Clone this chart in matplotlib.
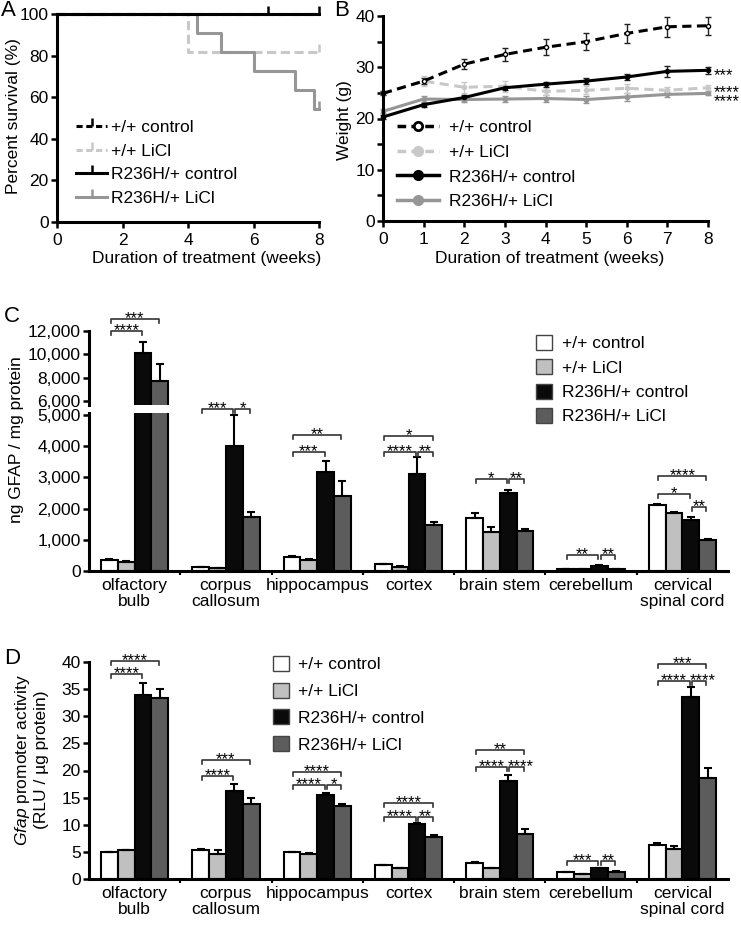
import matplotlib
matplotlib.use("Agg")
import matplotlib.pyplot as plt
import numpy as np
from matplotlib.lines import Line2D
from matplotlib.patches import Patch
from matplotlib.ticker import FuncFormatter, FixedLocator

plt.rcParams['font.family'] = ['Liberation Sans', 'DejaVu Sans']
plt.rcParams['font.size'] = 12.5
plt.rcParams['mathtext.fontset'] = 'custom'
plt.rcParams['mathtext.it'] = 'Liberation Sans:italic'
plt.rcParams['mathtext.rm'] = 'Liberation Sans'

W, H = 741, 926
FS = 12.5
STAR_FS = 12

# ---- panel A: survival (step curves) ----
surv_t_wt_ctrl = [0, 8]
surv_wt_ctrl = [100, 100]
surv_t_wt_licl = [0, 4.0, 8]
surv_wt_licl = [100, 81.8, 81.8]
surv_t_r_ctrl = [0, 8]
surv_r_ctrl = [100, 100]
surv_t_r_licl = [0, 4.27, 5.0, 6.0, 7.27, 7.85, 8]
surv_r_licl = [100, 90.9, 81.8, 72.7, 63.6, 54.5, 54.5]
cens_r_ctrl = [6.43, 8]

# ---- panel B: body weight ----
weeks = [0, 1, 2, 3, 4, 5, 6, 7, 8]
wt_wt_ctrl = [24.9, 27.3, 30.6, 32.5, 33.9, 35.0, 36.6, 37.9, 38.1]
wt_wt_ctrl_err = [0.4, 0.6, 1.0, 1.2, 1.6, 1.7, 1.8, 1.9, 1.8]
wt_wt_licl = [24.9, 27.3, 26.1, 26.3, 25.3, 25.5, 25.9, 25.5, 26.0]
wt_wt_licl_err = [0.4, 1.0, 1.1, 1.1, 0.8, 0.8, 0.9, 0.6, 0.6]
wt_r_ctrl = [20.3, 22.7, 24.1, 26.0, 26.7, 27.3, 28.1, 29.2, 29.4]
wt_r_ctrl_err = [0.3, 0.4, 0.4, 0.4, 0.5, 0.6, 0.6, 1.1, 0.7]
wt_r_licl = [21.4, 23.8, 23.7, 23.8, 23.9, 23.7, 24.2, 24.7, 24.9]
wt_r_licl_err = [0.4, 0.5, 0.5, 0.5, 0.6, 0.6, 0.7, 0.5, 0.4]
b_stars = ['***', '****', '****']

# ---- panels C, D: regions ----
regions = ['olfactory\nbulb', 'corpus\ncallosum', 'hippocampus', 'cortex',
           'brain stem', 'cerebellum', 'cervical\nspinal cord']
groups = ['+/+ control', '+/+ LiCl', 'R236H/+ control', 'R236H/+ LiCl']

gfap_wt_ctrl = [360, 130, 450, 210, 1700, 75, 2120]
gfap_wt_licl = [290, 100, 350, 140, 1260, 75, 1850]
gfap_r_ctrl = [10100, 4000, 3170, 3100, 2510, 160, 1620]
gfap_r_licl = [7750, 1740, 2400, 1470, 1280, 60, 1000]
gfap_wt_ctrl_err = [20, 10, 20, 20, 160, 5, 40]
gfap_wt_licl_err = [20, 10, 20, 20, 160, 5, 50]
gfap_r_ctrl_err = [1000, 990, 370, 540, 100, 20, 120]
gfap_r_licl_err = [1450, 140, 480, 90, 60, 10, 40]

prom_wt_ctrl = [4.9, 5.4, 4.9, 2.5, 3.0, 1.2, 6.2]
prom_wt_licl = [5.3, 4.7, 4.7, 2.0, 2.0, 0.9, 5.6]
prom_r_ctrl = [33.9, 16.3, 15.4, 10.1, 18.0, 2.0, 33.6]
prom_r_licl = [33.3, 13.9, 13.4, 7.7, 8.3, 1.35, 18.7]
prom_wt_ctrl_err = [0.1, 0.1, 0.05, 0.1, 0.1, 0.05, 0.4]
prom_wt_licl_err = [0.1, 0.6, 0.05, 0.1, 0.1, 0.1, 0.5]
prom_r_ctrl_err = [2.3, 1.3, 0.5, 0.2, 1.1, 0.1, 1.8]
prom_r_licl_err = [1.7, 1.1, 0.4, 0.4, 0.9, 0.1, 1.7]

# (region, bar a, bar b, height, label)
gfap_sig_top = [(0, 0, 2, 12000, '****'), (0, 0, 3, 13050, '***')]
gfap_sig = [(1, 0, 2, 5200, '***'), (1, 2, 3, 5200, '*'),
            (2, 0, 2, 3820, '***'), (2, 0, 3, 4350, '**'),
            (3, 0, 2, 3800, '****'), (3, 2, 3, 3800, '**'), (3, 0, 3, 4330, '*'),
            (4, 0, 2, 2940, '*'), (4, 2, 3, 2940, '**'),
            (5, 0, 2, 500, '**'), (5, 2, 3, 500, '**'),
            (6, 0, 3, 3050, '****'), (6, 0, 2, 2480, '*'), (6, 2, 3, 2060, '**')]
prom_sig = [(0, 0, 2, 37.8, '****'), (0, 0, 3, 40.2, '****'),
            (1, 0, 2, 19.0, '****'), (1, 0, 3, 21.9, '***'),
            (2, 0, 2, 17.3, '****'), (2, 2, 3, 17.3, '*'), (2, 0, 3, 19.8, '****'),
            (3, 0, 2, 11.5, '****'), (3, 2, 3, 11.5, '**'), (3, 0, 3, 14.1, '****'),
            (4, 0, 2, 20.6, '****'), (4, 2, 3, 20.6, '****'), (4, 0, 3, 23.8, '**'),
            (5, 0, 2, 3.4, '***'), (5, 2, 3, 3.4, '**'),
            (6, 0, 2, 36.5, '****'), (6, 2, 3, 36.5, '****'), (6, 0, 3, 39.6, '***')]

BAR_COLORS = ['white', '#c0c0c0', '#0a0a0a', '#5c5c5c']
LIGHT = '#c8c8c8'
MID = '#969696'
BW = 0.184


def box(l, t, r, b):
    return [l / W, 1 - b / H, (r - l) / W, (b - t) / H]


def ftext(x, y, s, **kw):
    kw.setdefault('ha', 'center')
    kw.setdefault('va', 'center')
    fig.text(x / W, 1 - y / H, s, **kw)


def style(ax, left=True, bottom=True):
    for s in ('top', 'right'):
        ax.spines[s].set_visible(False)
    ax.spines['left'].set_visible(left)
    ax.spines['bottom'].set_visible(bottom)
    for s in ('left', 'bottom'):
        ax.spines[s].set_linewidth(2.2)
    ax.tick_params(width=1.8, length=4, direction='out', labelsize=FS, pad=2)


def bars(ax, means, errs):
    x0 = np.arange(len(regions))
    for k, (m, e) in enumerate(zip(means, errs)):
        x = x0 + (k - 1.5) * BW
        ax.bar(x, m, BW, color=BAR_COLORS[k], edgecolor='black', lw=1.5, zorder=2)
        ax.errorbar(x, m, yerr=[np.zeros(len(m)), e], fmt='none', ecolor='black',
                    elinewidth=1.5, capsize=3, capthick=1.5, zorder=3)


def star_w(label):
    # approx width of a row of asterisks, px
    return len(label) * 0.389 * STAR_FS * 100 / 72


def brackets(ax, sigs, tick_px=4):
    y0, y1 = ax.get_ylim()
    dy = tick_px * (y1 - y0) / ax.bbox.height
    x_px = ax.bbox.width / np.diff(ax.get_xlim())[0]
    for cat, a, b, y, label in sigs:
        x1 = cat + (a - 1.5) * BW + 0.012
        x2 = cat + (b - 1.5) * BW - 0.012
        ax.plot([x1, x1, x2, x2], [y - dy, y, y, y - dy], color='#333333', lw=1.2,
                clip_on=False, zorder=4)
        # push a label right if it would run into its left neighbour's label
        shift = 0.0
        for c2, a2, b2, y2, lab2 in sigs:
            if c2 == cat and y2 == y and b2 == a:
                gap = ((a + b) - (a2 + b2)) / 2 * BW * x_px
                need = (star_w(label) + star_w(lab2)) / 2 + 3 - gap
                shift = max(shift, need)
        ax.annotate(label, ((x1 + x2) / 2, y), xytext=(shift * 0.72, -3),
                    textcoords='offset points', ha='center', va='baseline',
                    fontsize=STAR_FS, annotation_clip=False)


def region_axis(ax):
    ax.set_xlim(-0.5, len(regions) - 0.5)
    ax.set_xticks(range(len(regions)))
    ax.set_xticklabels(regions, linespacing=1.05)
    ax.tick_params(axis='x', which='major', length=0, pad=5)
    ax.xaxis.set_minor_locator(FixedLocator(np.arange(0.5, len(regions) - 1, 1.0)))
    ax.tick_params(axis='x', which='minor', length=3, width=1.5, direction='out')


fig = plt.figure(figsize=(W / 100, H / 100), dpi=100)

# ---------------- A ----------------
axA = fig.add_axes(box(57, 14, 319, 222))
style(axA)
axA.step(surv_t_wt_ctrl, surv_wt_ctrl, where='post', color='black', lw=2.2,
         ls=(0, (3, 1.5)), clip_on=False)
axA.step(surv_t_wt_licl, surv_wt_licl, where='post', color=LIGHT, lw=2.2,
         ls=(0, (3, 1.5)), clip_on=False)
axA.step(surv_t_r_licl, surv_r_licl, where='post', color=MID, lw=2.2, clip_on=False)
axA.step(surv_t_r_ctrl, surv_r_ctrl, where='post', color='black', lw=2.2, clip_on=False)
axA.plot([surv_t_wt_licl[-1]], [surv_wt_licl[-1]], ls='none', marker=2, ms=6, mew=1.8,
         color=LIGHT, clip_on=False)
axA.plot([surv_t_r_licl[-1]], [surv_r_licl[-1]], ls='none', marker=2, ms=6, mew=1.8,
         color=MID, clip_on=False)
axA.plot(cens_r_ctrl, [100] * len(cens_r_ctrl), ls='none', marker=2, ms=6, mew=1.8,
         color='black', clip_on=False)
axA.set_xlim(0, 8)
axA.set_ylim(0, 100)
axA.set_xticks([0, 2, 4, 6, 8])
axA.set_yticks([0, 20, 40, 60, 80, 100])
axA.tick_params(axis='x', pad=4)
hA = [Line2D([], [], color='black', lw=2.2, ls=(0, (2, 1.2)), marker=2, ms=6, mew=1.8),
      Line2D([], [], color=LIGHT, lw=2.2, ls=(0, (2, 1.2)), marker=2, ms=6, mew=1.8),
      Line2D([], [], color='black', lw=2.2, marker=2, ms=6, mew=1.8),
      Line2D([], [], color=MID, lw=2.2, marker=2, ms=6, mew=1.8)]
fig.legend(hA, groups, loc='upper left', bbox_to_anchor=(76 / W, 1 - 120 / H),
           frameon=False, borderpad=0, borderaxespad=0, handlelength=1.8,
           handletextpad=0.2, labelspacing=0.48, fontsize=FS)
ftext(14, 116, 'Percent survival (%)', rotation=90, fontsize=FS)
ftext(207, 258, 'Duration of treatment (weeks)', fontsize=FS)

# ---------------- B ----------------
axB = fig.add_axes(box(383, 16, 708, 221))
style(axB)
series = [(wt_r_licl, wt_r_licl_err, MID, '-', MID, MID),
          (wt_wt_licl, wt_wt_licl_err, LIGHT, (0, (3, 1.8)), LIGHT, LIGHT),
          (wt_r_ctrl, wt_r_ctrl_err, 'black', '-', 'black', '#222222'),
          (wt_wt_ctrl, wt_wt_ctrl_err, 'black', (0, (3, 1.8)), 'white', '#222222')]
for vals, err, col, ls, mfc, ecol in series:
    axB.errorbar(weeks, vals, yerr=err, color=col, ls=ls, lw=2.2, marker='o', ms=3,
                 mfc=mfc, mec=col, mew=1, ecolor=ecol, elinewidth=1, capsize=2.5,
                 capthick=1, clip_on=False)
axB.set_xlim(0, 8)
axB.set_ylim(0, 40)
axB.set_xticks(weeks)
axB.set_yticks([0, 10, 20, 30, 40])
axB.set_yticks([5, 15, 25, 35], minor=True)
axB.tick_params(axis='y', which='minor', width=1.8, length=4)
axB.tick_params(axis='x', pad=4)
for val, s, dy in zip([wt_r_ctrl[-1], wt_wt_licl[-1], wt_r_licl[-1]], b_stars, [0, 0.1, -0.5]):
    axB.annotate(s, (8, val + dy), xytext=(4, -7), textcoords='offset points',
                 ha='left', va='baseline', fontsize=STAR_FS, annotation_clip=False)
hB = [Line2D([], [], color='black', lw=2.5, ls=(0, (2.5, 1.5)), marker='o', ms=6,
             mfc='white', mec='black', mew=2),
      Line2D([], [], color=LIGHT, lw=2.5, ls=(0, (2.5, 1.5)), marker='o', ms=7, mfc=LIGHT, mec=LIGHT),
      Line2D([], [], color='black', lw=2.5, marker='o', ms=7, mfc='black'),
      Line2D([], [], color=MID, lw=2.5, marker='o', ms=7, mfc=MID, mec=MID)]
fig.legend(hB, groups, loc='upper left', bbox_to_anchor=(397 / W, 1 - 120 / H),
           frameon=False, borderpad=0, borderaxespad=0, handlelength=2.4,
           handletextpad=0.6, labelspacing=0.55, fontsize=FS)
ftext(345, 120, 'Weight (g)', rotation=90, fontsize=FS)
ftext(550, 258, 'Duration of treatment (weeks)', fontsize=FS)

# ---------------- C (broken axis) ----------------
gfap_means = [gfap_wt_ctrl, gfap_wt_licl, gfap_r_ctrl, gfap_r_licl]
gfap_errs = [gfap_wt_ctrl_err, gfap_wt_licl_err, gfap_r_ctrl_err, gfap_r_licl_err]
thousands = FuncFormatter(lambda v, _: f'{int(v):,}')

axCt = fig.add_axes(box(89, 331, 728, 404.5))
style(axCt, bottom=False)
bars(axCt, gfap_means, gfap_errs)
axCt.set_xlim(-0.5, len(regions) - 0.5)
axCt.set_ylim(5700, 12000)
axCt.set_yticks([6000, 8000, 10000, 12000])
axCt.yaxis.set_major_formatter(thousands)
axCt.set_xticks([])

axC = fig.add_axes(box(89, 413.4, 728, 571))
style(axC)
bars(axC, gfap_means, gfap_errs)
axC.set_ylim(0, 5050)
axC.set_yticks(range(0, 5001, 1000))
axC.yaxis.set_major_formatter(thousands)
region_axis(axC)
brackets(axCt, gfap_sig_top)
brackets(axC, gfap_sig)
hC = [Patch(facecolor=c, edgecolor='#444444', lw=1) for c in BAR_COLORS]
fig.legend(hC, groups, loc='upper left', bbox_to_anchor=(536 / W, 1 - 335 / H),
           frameon=False, borderpad=0, borderaxespad=0, handlelength=0.95,
           handleheight=0.95, handletextpad=0.55, labelspacing=0.45, fontsize=FS)
ftext(17, 440, 'ng GFAP / mg protein', rotation=90, fontsize=FS)

# ---------------- D ----------------
axD = fig.add_axes(box(89, 662, 728, 879))
style(axD)
bars(axD, [prom_wt_ctrl, prom_wt_licl, prom_r_ctrl, prom_r_licl],
     [prom_wt_ctrl_err, prom_wt_licl_err, prom_r_ctrl_err, prom_r_licl_err])
axD.set_ylim(0, 40)
axD.set_yticks(range(0, 41, 5))
region_axis(axD)
brackets(axD, prom_sig)
fig.legend(hC, groups, loc='upper left', bbox_to_anchor=(273 / W, 1 - 656 / H),
           frameon=False, borderpad=0, borderaxespad=0, handlelength=0.95,
           handleheight=0.95, handletextpad=0.5, labelspacing=0.59, fontsize=FS)
ftext(31, 760, '$\\it{Gfap}$ promoter activity\n(RLU / µg protein)', rotation=90,
      fontsize=FS, linespacing=1.1)

# panel letters
for s, x, y in [('A', 8, 11), ('B', 342, 11), ('C', 12, 316), ('D', 12, 658)]:
    ftext(x, y, s, fontsize=16)

fig.savefig('out.png', dpi=100)
